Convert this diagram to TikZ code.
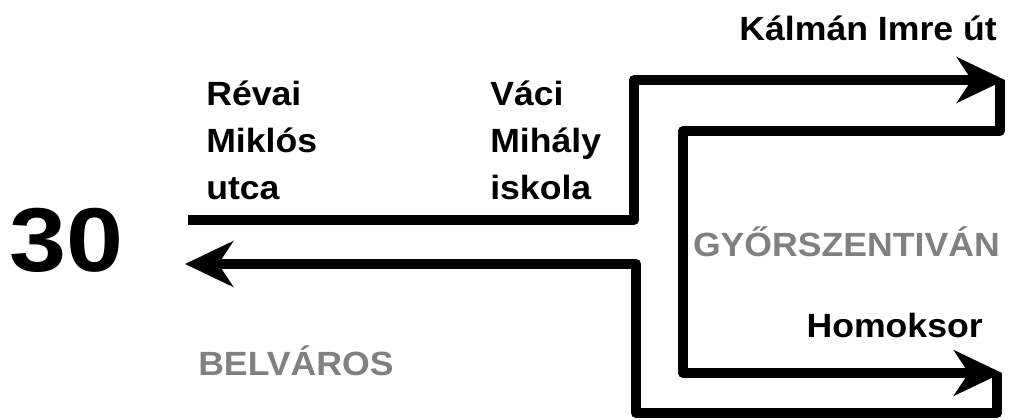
\documentclass[tikz,border=0pt]{standalone}
\usepackage{fontspec}
\setmainfont{Liberation Sans}
\usetikzlibrary{arrows.meta}

\definecolor{placegray}{RGB}{128,128,128}

\tikzset{
  route/.style={line width=7.5pt, line join=round, -{Stealth[length=36pt,width=34pt,inset=11pt]}},
  stop/.style={font=\bfseries\fontsize{25.2}{35.6}\selectfont, inner sep=0pt, xscale=1.06, transform shape, align=left},
  town/.style={stop, text=placegray},
  linenum/.style={font=\bfseries\fontsize{68}{68}\selectfont, inner sep=0pt, xscale=1.13, transform shape},
}

\begin{document}
\begin{tikzpicture}[x=0.75pt,y=-0.75pt]
\useasboundingbox (0,0) rectangle (1017,420);

%Route corners
\coordinate (a0) at (188,220);
\coordinate (a1) at (634,220);
\coordinate (a2) at (634,80);
\coordinate (a3) at (1005,80);
\coordinate (b0) at (1000,80);
\coordinate (b1) at (1000,131);
\coordinate (b2) at (683,131);
\coordinate (b3) at (683,373);
\coordinate (b4) at (1002,373);
\coordinate (c0) at (997,373);
\coordinate (c1) at (997,413);
\coordinate (c2) at (636,413);
\coordinate (c3) at (636,264);
\coordinate (c4) at (185,264);

%Straight Lines
\draw [route] (a0) -- (a1) -- (a2) -- (a3);
\draw [route] (b0) -- (b1) -- (b2) -- (b3) -- (b4);
\draw [route] (c0) -- (c1) -- (c2) -- (c3) -- (c4);

% Text Node
\node [linenum, anchor=base west] (linenr) at (9,272) {30};
% Text Node
\node [stop, anchor=base west] (revai) at (206,200) {Révai\\Miklós\\utca};
% Text Node
\node [stop, anchor=base west] (vaci) at (490,200) {Váci\\Mihály\\iskola};
% Text Node
\node [stop, anchor=base east] (kalman) at (997,41) {Kálmán Imre út};
% Text Node
\node [town, anchor=base east] (gyor) at (1000,257) {GYŐRSZENTIVÁN};
% Text Node
\node [stop, anchor=base east] (homok) at (983,337) {Homoksor};
% Text Node
\node [town, anchor=base west] (belv) at (198,375) {BELVÁROS};

\end{tikzpicture}
\end{document}
